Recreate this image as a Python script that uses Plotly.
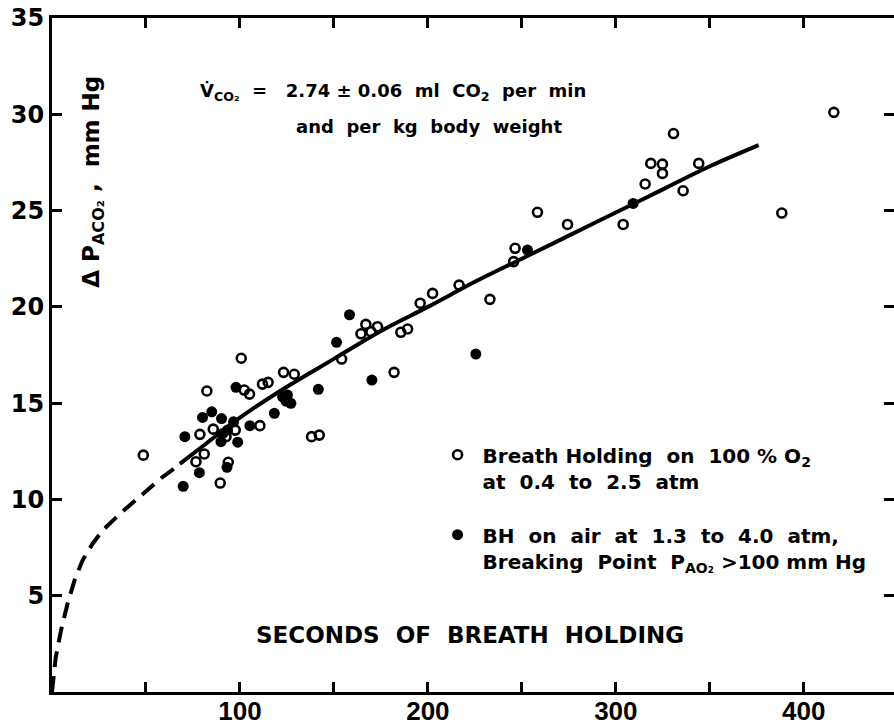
import plotly.graph_objects as go

# ---- data ----
open_x = [48.6, 100.7, 154.1, 164.4, 182.0, 82.4, 102.3, 105.1, 112.0, 115.0, 123.2, 128.9,
          85.8, 97.5, 92.6, 78.7, 110.6, 138.1, 142.2, 81.0, 76.6, 93.8, 89.5,
          167.0, 173.2, 169.7, 185.6, 189.2, 195.9, 202.5, 216.6, 233.0, 245.6, 246.4,
          258.3, 274.3, 303.9, 315.6, 318.6, 324.8, 324.8, 330.7, 335.8, 344.1, 388.3, 416.0]
open_y = [12.3, 17.33, 17.29, 18.6, 16.6, 15.63, 15.68, 15.47, 15.99, 16.08, 16.6, 16.5,
          13.65, 13.6, 13.26, 13.38, 13.83, 13.26, 13.34, 12.36, 11.96, 11.93, 10.85,
          19.09, 18.97, 18.71, 18.68, 18.85, 20.19, 20.7, 21.13, 20.39, 22.35, 23.04,
          24.91, 24.28, 24.28, 26.38, 27.45, 27.41, 26.93, 29.0, 26.03, 27.45, 24.87, 30.1]

filled_x = [151.4, 170.2, 97.9, 122.7, 125.3, 127.1, 124.5, 141.7, 118.3, 80.1, 85.0, 90.2,
            96.6, 90.8, 93.4, 89.9, 98.8, 70.7, 105.3, 78.4, 93.1, 69.8, 158.3, 225.5,
            309.2, 253.0]
filled_y = [18.16, 16.2, 15.82, 15.33, 15.42, 14.99, 15.1, 15.72, 14.47, 14.26, 14.55, 14.2,
            14.03, 13.43, 13.6, 13.0, 12.97, 13.26, 13.83, 11.39, 11.67, 10.68, 19.59, 17.55,
            25.37, 22.95]

fit_x = [68, 80, 100, 125, 150, 175, 200, 225, 250, 275, 300, 325, 350, 376]
fit_y = [11.85, 12.75, 14.25, 15.85, 17.3, 18.75, 20.0, 21.3, 22.5, 23.7, 24.9, 26.1, 27.3, 28.4]

dash_x = [0, 2.0, 4.8, 8.3, 12.0, 16.3, 21.6, 27.0, 36.7, 47.3, 58.0, 68.6]
dash_y = [0, 1.8, 3.2, 4.6, 5.8, 6.85, 7.7, 8.4, 9.3, 10.2, 11.1, 11.87]

x_ticks = [50, 100, 150, 200, 250, 300, 350, 400]
x_labels = ["", "100", "", "200", "", "300", "", "400"]
y_ticks = [5, 10, 15, 20, 25, 30, 35]
y_labels = ["5", "10", "15", "20", "25", "30", "35"]

FONT = "DejaVu Sans"

fig = go.Figure()
fig.add_trace(go.Scatter(x=dash_x, y=dash_y, mode="lines", showlegend=False,
                         line=dict(color="black", width=4, dash="16px,9px")))
fig.add_trace(go.Scatter(x=fit_x, y=fit_y, mode="lines", showlegend=False,
                         line=dict(color="black", width=4, shape="spline")))
fig.add_trace(go.Scatter(
    x=open_x, y=open_y, mode="markers",
    name="Breath Holding  on  100 % O<sub>2</sub><br>at  0.4  to  2.5  atm",
    marker=dict(symbol="circle-open", size=9, color="black", line=dict(width=2.6, color="black")),
    legendgroup="a"))
fig.add_trace(go.Scatter(
    x=filled_x, y=filled_y, mode="markers",
    name="BH  on  air  at  1.3  to  4.0  atm,<br>Breaking  Point  P<sub>AO₂</sub> >100 mm Hg",
    marker=dict(symbol="circle", size=11, color="black"),
    legendgroup="b"))
fig.add_trace(go.Scatter(x=[None], y=[None], yaxis="y2", showlegend=False))

fig.update_layout(
    width=894, height=727,
    margin=dict(l=52, r=0, t=18, b=35),
    paper_bgcolor="white", plot_bgcolor="white",
    font=dict(family=FONT, color="black", size=18),
    xaxis=dict(range=[0, 448], tickvals=x_ticks, ticktext=x_labels,
               ticks="inside", ticklen=10, tickwidth=2.5, tickcolor="black",
               showline=True, linewidth=3, linecolor="black", mirror="ticks",
               showgrid=False, zeroline=False, ticklabelstandoff=-6,
               ticklabeloverflow="allow",
               tickfont=dict(family="Liberation Sans", size=26, weight="bold")),
    yaxis=dict(range=[0, 35], tickvals=y_ticks, ticktext=y_labels,
               ticks="inside", ticklen=10, tickwidth=2.5, tickcolor="black",
               showline=True, linewidth=3, linecolor="black",
               showgrid=False, zeroline=False, ticklabeloverflow="allow",
               tickfont=dict(family=FONT, size=24, weight="bold")),
    yaxis2=dict(range=[0, 35], overlaying="y", side="right", tickvals=y_ticks,
                showticklabels=False, ticks="inside", ticklen=10, tickwidth=2.5,
                tickcolor="black", showline=False, showgrid=False, zeroline=False),
    legend=dict(x=0.452, y=0.381, xanchor="left", yanchor="top",
                bgcolor="rgba(0,0,0,0)", valign="top", tracegroupgap=25, itemwidth=40,
                font=dict(family=FONT, size=20, weight="bold")),
    annotations=[
        dict(text="SECONDS  OF  BREATH  HOLDING", xref="paper", yref="paper",
             x=0.497, y=0.0846, xanchor="center", yanchor="middle", showarrow=False,
             font=dict(family=FONT, size=23, weight="bold")),
        dict(text="Δ P<sub>ACO₂</sub> ,  mm Hg", xref="paper", yref="paper",
             x=0.0285, y=0.757, xanchor="left", yanchor="middle", showarrow=False,
             textangle=-90, font=dict(family=FONT, size=23, weight="bold")),
        dict(text="V\u0307<sub>CO₂</sub>  =   2.74 ± 0.06  ml  CO<sub>2</sub>  per  min",
             xref="paper", yref="paper", x=0.173, y=0.911, xanchor="left", yanchor="top",
             showarrow=False, font=dict(family=FONT, size=18, weight="bold")),
        dict(text="and  per  kg  body  weight",
             xref="paper", yref="paper", x=0.287, y=0.8576, xanchor="left", yanchor="top",
             showarrow=False, font=dict(family=FONT, size=18, weight="bold")),
    ],
)

fig.write_html("out.html", config={"displayModeBar": False},
               post_script="document.body.style.margin='0';document.body.style.overflow='hidden';")
